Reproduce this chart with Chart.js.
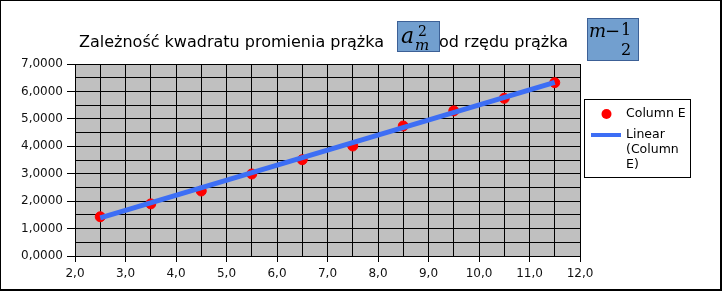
<!DOCTYPE html>
<html>
<head>
<meta charset="utf-8">
<script src="https://cdn.jsdelivr.net/npm/chart.js@4/dist/chart.umd.min.js"></script>
<style>
  html, body { margin: 0; padding: 0; background: #fff; }
  canvas { display: block; }
</style>
</head>
<body>
<canvas id="my-chart" width="722" height="292"></canvas>
<script>
// m - 1/2 (rząd prążka) and a_m^2
const orderValues = [2.5, 3.5, 4.5, 5.5, 6.5, 7.5, 8.5, 9.5, 10.5, 11.5];
const radiusSquared = [1.43, 1.90, 2.37, 2.99, 3.51, 4.01, 4.74, 5.29, 5.75, 6.32];
// trend line ends as seen in the picture
const trendOrder = [2.5, 11.5];
const trendValues = [1.39, 6.33];

const titleStart = 'Zależność kwadratu promienia prążka';
const titleEnd = 'od rzędu prążka';
const seriesName = 'Column E';
const trendName = ['Linear', '(Column', 'E)'];

const xMin = 2, xMax = 12, yMin = 0, yMax = 7;

const labelFont = '"DejaVu Sans", Verdana, sans-serif';
const mathFont = '"DejaVu Serif", "Liberation Serif", serif';

const pointData = orderValues.map((x, i) => ({ x: x, y: radiusSquared[i] }));
const trendData = trendOrder.map((x, i) => ({ x: x, y: trendValues[i] }));

// gray plot background + outer frame
const backdrop = {
  id: 'backdrop',
  beforeDraw(chart) {
    const { ctx, chartArea: a } = chart;
    ctx.save();
    ctx.fillStyle = '#fff';
    ctx.fillRect(0, 0, chart.width, chart.height);
    ctx.fillStyle = '#c0c0c0';
    ctx.fillRect(a.left, a.top, a.right - a.left, a.bottom - a.top);
    ctx.restore();
  },
  afterDraw(chart) {
    const ctx = chart.ctx;
    ctx.save();
    ctx.strokeStyle = '#000';
    ctx.lineWidth = 2;
    ctx.strokeRect(0, 0, 721, 290);
    ctx.restore();
  }
};

function mathBox(ctx, x, y, w, h) {
  ctx.fillStyle = '#729fcf';
  ctx.fillRect(x, y, w, h);
  ctx.strokeStyle = '#3c6096';
  ctx.lineWidth = 1;
  ctx.strokeRect(x + 0.5, y + 0.5, w - 1, h - 1);
}

// title with the two formula boxes
const titlePlugin = {
  id: 'titlePlugin',
  afterDraw(chart) {
    const ctx = chart.ctx;
    ctx.save();
    ctx.fillStyle = '#000';
    ctx.textBaseline = 'alphabetic';
    ctx.font = '16px ' + labelFont;
    ctx.textAlign = 'left';
    ctx.fillText(titleStart, 79, 47);
    ctx.textAlign = 'right';
    ctx.fillText(titleEnd, 568, 47);

    // a_m^2
    mathBox(ctx, 397, 21, 43, 31);
    ctx.fillStyle = '#000';
    ctx.textAlign = 'left';
    ctx.font = 'italic 22px ' + mathFont;
    ctx.fillText('a', 401, 43);
    ctx.font = '14px ' + mathFont;
    ctx.fillText('2', 418, 36);
    ctx.font = 'italic 15px ' + mathFont;
    ctx.fillText('m', 415, 50);

    // m - 1/2
    mathBox(ctx, 587, 18, 52, 43);
    ctx.fillStyle = '#000';
    ctx.font = 'italic 18px ' + mathFont;
    ctx.fillText('m', 589, 37);
    ctx.font = '18px ' + mathFont;
    ctx.fillText('\u2212', 605, 37);
    ctx.font = '16px ' + mathFont;
    ctx.textAlign = 'center';
    ctx.fillText('1', 626, 35);
    ctx.fillText('2', 626, 55);
    ctx.restore();
  }
};

// legend box on the right, label wrapped like the original
const legendPlugin = {
  id: 'legendPlugin',
  afterDraw(chart) {
    const ctx = chart.ctx;
    const pts = chart.data.datasets[1];
    const line = chart.data.datasets[0];
    ctx.save();
    ctx.fillStyle = '#fff';
    ctx.fillRect(584, 99, 107, 79);
    ctx.strokeStyle = '#000';
    ctx.lineWidth = 1;
    ctx.strokeRect(584.5, 99.5, 106, 78);

    ctx.fillStyle = pts.backgroundColor;
    ctx.beginPath();
    ctx.arc(606.5, 114, 5, 0, Math.PI * 2);
    ctx.fill();

    ctx.strokeStyle = line.borderColor;
    ctx.lineWidth = 4;
    ctx.beginPath();
    ctx.moveTo(591, 135);
    ctx.lineTo(621, 135);
    ctx.stroke();

    ctx.fillStyle = '#000';
    ctx.font = '12.5px ' + labelFont;
    ctx.textAlign = 'left';
    ctx.textBaseline = 'middle';
    ctx.fillText(pts.label, 626, 114);
    trendName.forEach((t, i) => ctx.fillText(t, 626, 135 + i * 15));
    ctx.restore();
  }
};

const ctx = document.getElementById('my-chart').getContext('2d');
const chart = new Chart(ctx, {
  type: 'scatter',
  data: {
    datasets: [
      {
        type: 'line',
        label: trendName.join(' '),
        data: trendData,
        borderColor: '#3d6ef5',
        borderWidth: 5,
        pointRadius: 0,
        fill: false,
        order: 1
      },
      {
        label: seriesName,
        data: pointData,
        backgroundColor: '#ff0000',
        borderColor: '#ff0000',
        pointRadius: 5,
        pointHoverRadius: 5,
        order: 2
      }
    ]
  },
  options: {
    responsive: false,
    animation: false,
    events: [],
    layout: { padding: { top: 64, right: 142, left: 0, bottom: 0 } },
    plugins: {
      legend: { display: false },
      title: { display: false },
      tooltip: { enabled: false }
    },
    scales: {
      x: {
        type: 'linear',
        min: xMin,
        max: xMax,
        afterFit(scale) { scale.height = 36; },
        grid: {
          color: '#000',
          lineWidth: 1,
          tickLength: 6,
          tickColor: c => (c.tick && c.tick.value % 1 === 0) ? '#000' : 'rgba(0,0,0,0)'
        },
        border: { color: '#000', width: 1 },
        ticks: {
          stepSize: 0.5,
          autoSkip: false,
          maxRotation: 0,
          padding: 5,
          color: '#111',
          font: { family: labelFont, size: 12 },
          callback: v => v % 1 === 0 ? v.toFixed(1).replace('.', ',') : ''
        }
      },
      y: {
        min: yMin,
        max: yMax,
        afterFit(scale) { scale.width = 75; },
        grid: {
          color: '#000',
          lineWidth: 1,
          tickLength: 8,
          tickColor: c => (c.tick && c.tick.value % 1 === 0) ? '#000' : 'rgba(0,0,0,0)'
        },
        border: { color: '#000', width: 1 },
        ticks: {
          stepSize: 0.5,
          autoSkip: false,
          padding: 4,
          color: '#111',
          font: { family: labelFont, size: 12 },
          callback: v => v % 1 === 0 ? v.toFixed(4).replace('.', ',') : ''
        }
      }
    }
  },
  plugins: [backdrop, titlePlugin, legendPlugin]
});
</script>
</body>
</html>
